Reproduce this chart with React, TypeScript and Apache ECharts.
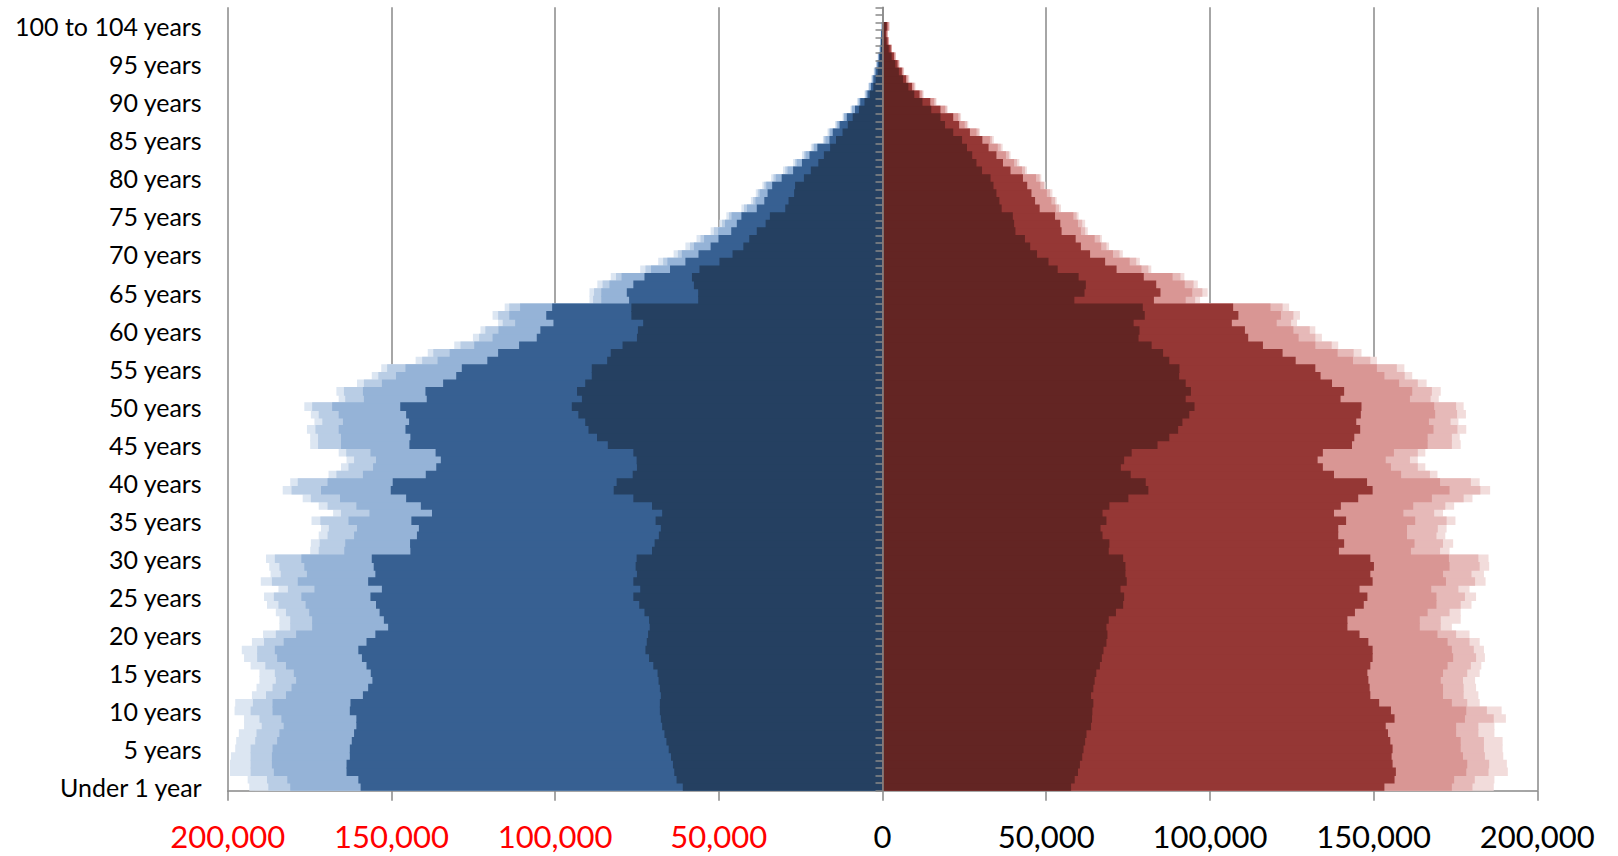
import React, { useEffect, useRef } from "react";
import * as echarts from "echarts";

// ---- Categories (single years of age) ----
const categories: string[] = (() => {
  const c: string[] = ["Under 1 year", "1 year"];
  for (let i = 2; i <= 99; i++) c.push(i + " years");
  c.push("100 to 104 years", "105 to 109 years", "110 years and over");
  return c;
})();

const xTicks = [-200000, -150000, -100000, -50000, 0, 50000, 100000, 150000, 200000];

// ---- Left side (values in thousands), outermost to innermost ----
const leftLightest = [193.4,193.9,199.3,199.3,199.0,197.7,197.4,196.6,195.0,195.0,197.9,197.7,192.6,191.2,190.3,190.3,193.0,195.0,195.7,192.6,189.2,184.2,184.2,185.3,188.0,188.9,184.5,189.9,186.9,187.3,188.3,174.8,174.6,172.2,171.5,174.4,167.8,172.2,177.1,183.2,180.9,169.2,165.4,163.7,166.1,174.8,174.8,175.8,173.5,174.6,176.6,166.1,166.8,160.5,156.0,153.1,142.6,138.9,130.8,125.1,122.8,117.4,119.1,115.4,89.5,89.5,87.1,83.0,74.0,68.5,63.8,60.2,56.8,52.5,49.8,47.7,43.1,40.2,38.7,36.7,34.0,30.4,27.3,24.6,21.9,18.2,16.8,14.5,12.2,9.8,7.8,5.5,4.4,3.5,2.7,2.0,1.5,0.9,0.7,0.5,0.3];
const leftLighter = [187.6,188.0,193.0,193.0,193.0,193.0,191.6,191.2,189.6,190.3,193.0,192.3,188.3,186.3,185.3,185.6,188.5,191.0,191.0,188.9,185.3,180.9,180.9,182.2,184.5,185.9,181.6,186.5,183.8,184.2,185.6,172.2,171.9,169.5,169.1,171.7,165.4,169.5,174.6,180.5,178.6,166.8,163.1,161.4,163.8,172.4,172.4,173.2,171.1,172.2,174.2,164.1,164.5,158.4,154.0,151.3,140.6,137.2,128.9,123.2,121.3,116.0,117.4,114.0,88.4,88.1,85.5,81.4,72.4,67.0,62.5,58.8,55.6,51.5,49.0,46.9,42.3,39.5,38.1,36.1,33.3,29.7,26.7,24.0,21.4,17.9,16.4,14.1,11.9,9.5,7.5,5.2,4.1,3.2,2.5,1.9,1.3,0.9,0.7,0.5,0.3];
const leftLight = [180.9,181.8,185.9,186.5,186.5,186.3,184.9,184.2,182.9,183.6,186.3,186.3,182.2,180.5,179.1,179.8,182.2,184.9,185.6,182.9,179.1,174.2,174.2,175.1,176.2,177.5,173.5,178.6,175.8,176.6,177.5,164.4,164.1,161.4,160.5,163.1,156.7,160.7,165.7,171.5,169.5,158.7,155.6,154.7,156.4,165.4,165.4,166.1,164.8,166.1,168.1,158.4,158.7,152.9,148.6,145.7,135.9,132.2,124.7,119.1,117.3,112.2,114.0,110.7,85.9,85.9,83.4,79.7,70.7,65.7,61.3,57.6,54.5,50.2,48.1,46.1,41.4,38.8,37.5,35.5,32.6,29.0,26.2,23.5,20.9,17.4,16.0,13.8,11.7,9.3,7.2,5.1,4.0,3.1,2.4,1.7,1.3,0.8,0.5,0.4,0.3];
const leftMedium = [159.4,160.1,163.7,163.7,162.7,162.7,162.1,161.4,160.7,160.7,162.7,162.5,158.7,157.1,155.8,156.3,157.6,159.0,160.1,157.6,154.9,151.0,152.3,153.6,154.7,156.4,152.9,157.1,154.9,155.4,156.0,144.2,144.3,142.2,141.6,143.9,137.6,141.0,145.5,150.2,149.6,139.5,136.3,134.9,136.5,144.5,144.2,145.7,144.6,145.5,147.3,139.2,139.6,134.2,130.2,128.5,120.7,117.4,111.0,105.6,104.5,100.5,102.7,100.9,77.4,78.1,76.1,72.7,64.9,60.2,56.2,52.5,50.1,46.2,44.5,43.1,38.4,36.1,35.1,33.7,30.8,27.3,24.6,22.3,19.9,16.2,15.2,13.1,10.9,8.4,6.8,4.6,3.5,2.8,2.1,1.5,1.1,0.6,0.5,0.4,0.1];
const leftDark = [61.0,62.9,63.6,64.0,64.6,65.3,66.0,66.6,67.3,67.7,68.0,68.0,67.7,68.0,68.4,68.7,70.0,71.3,72.4,72.0,71.6,71.1,71.3,72.7,74.3,76.1,74.0,76.1,75.0,75.4,75.1,70.4,69.6,68.3,67.7,69.3,67.3,70.4,76.1,82.1,81.2,76.3,75.0,75.1,76.1,83.9,87.2,89.8,90.8,92.9,94.9,91.8,93.3,90.8,88.8,88.8,84.1,83.0,79.4,75.0,74.7,73.1,76.7,76.7,56.3,56.3,57.6,58.2,55.9,49.8,45.8,42.5,40.7,38.4,35.7,34.4,29.7,28.7,27.0,26.7,24.0,21.9,19.6,17.9,16.0,14.2,12.2,10.6,9.1,7.2,5.5,3.9,2.8,2.1,1.5,1.1,0.8,0.5,0.4,0.2,0.1];

// ---- Right side (values in thousands), innermost to outermost ----
const rightDark = [57.6,58.7,59.7,60.3,61.0,61.4,61.9,62.3,63.7,64.0,64.1,64.4,63.7,64.4,64.8,65.3,66.4,67.0,67.5,68.4,68.7,68.4,69.1,71.3,73.5,73.8,72.7,74.6,74.2,74.2,73.5,69.1,69.3,67.2,66.6,68.4,67.2,69.3,75.1,81.2,80.4,75.8,72.8,73.8,76.1,84.0,87.6,90.3,91.6,93.7,95.3,92.6,94.2,92.6,90.6,90.7,87.6,85.7,82.2,78.2,78.5,76.7,80.1,79.5,58.6,61.7,62.1,59.9,53.5,50.7,47.2,45.1,43.5,40.6,40.2,39.8,36.4,35.7,34.8,33.9,33.0,30.4,28.7,27.4,25.8,24.3,21.6,19.1,17.7,14.9,12.2,9.7,7.9,6.3,5.0,3.9,2.8,1.9,1.2,0.9,1.2];
const rightMedium = [153.3,156.4,156.8,155.8,155.5,155.8,155.1,154.4,153.7,156.4,155.3,151.7,149.0,148.8,148.4,148.1,149.0,149.7,149.7,148.4,145.7,142.0,142.0,144.3,147.0,148.1,145.7,149.7,149.0,150.1,149.0,139.4,141.0,139.2,139.2,141.6,137.9,140.0,145.3,149.7,148.0,137.9,134.5,132.9,134.5,143.4,144.1,145.9,144.7,146.1,146.3,139.9,141.0,137.3,133.8,132.2,126.2,122.2,116.2,111.7,110.7,106.7,108.7,107.1,82.9,84.9,83.6,79.8,71.5,68.0,63.4,60.6,59.0,54.7,54.3,52.7,48.0,46.6,45.5,44.2,42.9,39.1,36.8,34.8,32.4,30.5,26.7,23.4,21.6,17.7,14.6,11.3,9.0,7.2,5.9,4.6,3.5,2.5,1.6,1.2,1.5];
const rightLight = [173.9,174.6,178.3,178.6,177.3,176.6,176.6,175.2,175.2,177.9,178.3,173.9,171.2,171.2,170.5,171.2,172.6,174.3,173.9,172.6,169.5,164.1,164.1,166.5,169.2,169.2,167.6,172.1,171.2,173.2,173.0,161.4,162.5,160.2,160.2,162.7,159.1,162.1,167.8,173.2,170.3,158.4,155.3,153.7,156.2,166.5,166.5,168.3,166.9,168.8,168.5,161.1,161.8,157.8,153.3,151.0,143.7,139.0,132.2,127.1,125.5,120.4,121.7,118.5,92.6,94.6,92.3,88.6,79.1,75.5,70.4,66.8,64.8,60.6,59.7,58.3,52.9,51.6,50.2,48.2,46.9,42.6,40.2,37.7,35.2,32.8,28.7,25.1,23.1,19.1,15.7,12.0,9.5,7.6,6.3,5.0,3.9,2.8,1.9,1.5,1.9];
const rightLighter = [180.2,180.9,185.1,185.3,184.0,183.7,183.7,182.0,182.0,186.7,184.6,178.6,177.5,177.5,177.3,178.6,179.7,181.3,180.6,179.3,175.2,170.5,170.5,173.2,176.6,177.9,175.9,181.0,179.9,182.4,182.0,170.3,171.2,169.2,169.6,172.3,168.5,171.9,177.5,182.6,179.7,167.2,163.5,161.1,163.5,173.9,173.9,175.6,173.5,175.5,175.2,167.4,167.8,163.5,159.5,157.1,149.0,143.9,137.2,132.2,130.5,124.8,125.5,122.2,95.5,97.7,95.0,91.0,81.2,77.5,72.4,68.4,66.4,61.9,61.0,59.3,53.9,52.7,51.2,49.3,48.0,43.5,41.1,38.6,36.1,33.4,29.4,25.8,23.6,19.6,16.2,12.3,9.8,7.9,6.4,5.1,4.0,2.9,2.0,1.6,2.1];
const rightLightest = [186.7,186.9,191.0,190.7,189.6,189.4,189.4,186.9,186.9,190.4,189.1,182.4,182.0,181.3,181.0,182.4,182.9,184.0,183.7,182.4,179.3,173.9,176.6,176.6,179.9,181.3,179.3,184.2,183.7,185.3,185.1,173.2,174.3,171.9,172.3,175.0,171.2,174.6,180.2,185.6,182.4,169.5,165.8,163.5,165.8,176.6,176.3,178.3,175.9,178.2,177.5,169.9,170.5,166.2,161.8,159.4,151.0,146.3,139.2,134.2,132.2,126.6,127.5,124.2,97.0,99.3,96.3,92.2,82.1,78.6,73.4,69.2,67.0,62.7,61.9,59.9,54.5,53.2,51.9,49.8,48.5,44.1,41.8,39.1,36.7,34.0,29.8,26.2,24.0,19.9,16.5,12.6,10.1,8.2,6.6,5.2,4.0,2.9,2.0,1.6,2.1];

const GRAY = "#888888";
const FONT = "Lato, 'Open Sans', sans-serif";

const leftLayers = [
  { name: "L5", data: leftLightest, color: "#DCE6F2" },
  { name: "L4", data: leftLighter, color: "#B9CDE5" },
  { name: "L3", data: leftLight, color: "#95B3D7" },
  { name: "L2", data: leftMedium, color: "#376092" },
  { name: "L1", data: leftDark, color: "#254061" },
];
const rightLayers = [
  { name: "R5", data: rightLightest, color: "#F2DCDB" },
  { name: "R4", data: rightLighter, color: "#E6B9B8" },
  { name: "R3", data: rightLight, color: "#D99694" },
  { name: "R2", data: rightMedium, color: "#953735" },
  { name: "R1", data: rightDark, color: "#632523" },
];

export default function App() {
  const ref = useRef<HTMLDivElement>(null);
  useEffect(() => {
    if (!ref.current) return;
    const chart = echarts.init(ref.current, null, { renderer: "svg" });
    const mk = (l: { name: string; data: number[]; color: string }, sign: number) => ({
      name: l.name,
      type: "bar",
      yAxisIndex: 0,
      barGap: "-100%",
      barWidth: 8.6,
      data: l.data.map((v) => sign * v * 1000),
      itemStyle: { color: l.color },
      silent: true,
    });
    chart.setOption({
      animation: false,
      grid: { left: 227.7, right: 80.7, top: 7.3, bottom: 65.3, containLabel: false },
      xAxis: {
        type: "value",
        min: xTicks[0],
        max: xTicks[xTicks.length - 1],
        interval: 50000,
        axisLine: { show: true, onZero: false, lineStyle: { color: GRAY, width: 1.5 } },
        axisTick: { show: true, length: 10, lineStyle: { color: GRAY, width: 1.5 } },
        splitLine: { show: true, lineStyle: { color: GRAY, width: 1.5 } },
        axisLabel: {
          margin: 30,
          fontSize: 31,
          lineHeight: 31,
          fontFamily: FONT,
          formatter: (v: number) => Math.abs(v).toLocaleString("en-US"),
          color: (v: any) => (Number(v) < 0 ? "#FF0000" : "#000000"),
        },
      },
      yAxis: [
        {
          type: "category",
          data: categories,
          position: "left",
          axisLine: { show: false, onZero: false },
          axisTick: { show: false },
          splitLine: { show: false },
          axisLabel: { interval: 4, fontSize: 25, fontFamily: FONT, color: "#000000", margin: 26 },
        },
        {
          type: "category",
          data: categories,
          position: "left",
          z: 10,
          axisLine: { show: true, onZero: true, lineStyle: { color: GRAY, width: 1.5 } },
          axisTick: { show: true, interval: 0, length: 7, lineStyle: { color: GRAY, width: 1.5 } },
          axisLabel: { show: false },
          splitLine: { show: false },
        },
      ],
      series: [...leftLayers.map((l) => mk(l, -1)), ...rightLayers.map((l) => mk(l, 1))],
    });
    return () => chart.dispose();
  }, []);
  return (
    <div
      ref={ref}
      style={{ position: "fixed", left: 0, top: 0, width: 1618, height: 856, background: "#ffffff" }}
    />
  );
}
